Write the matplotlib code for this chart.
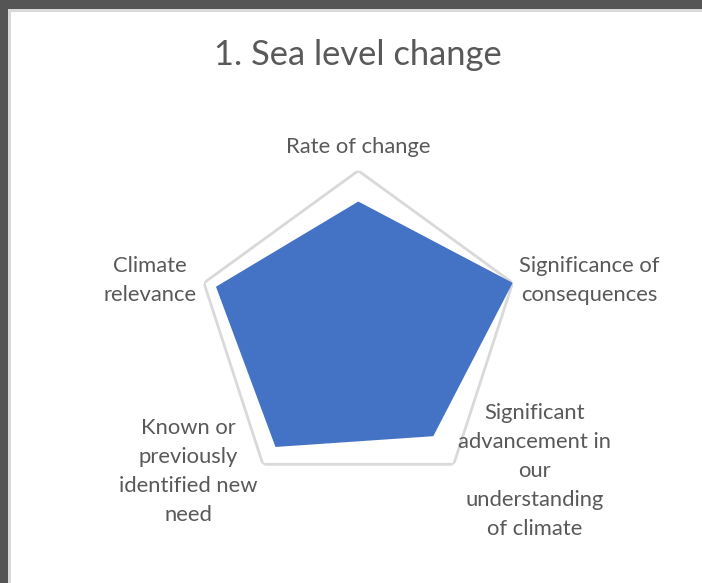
import numpy as np
import matplotlib
matplotlib.use("Agg")
import matplotlib.pyplot as plt
from matplotlib.patches import Rectangle

plt.rcParams['font.family'] = ['Lato', 'DejaVu Sans']

title = "1. Sea level change"
categories = ["Rate of change", "Significance of\nconsequences",
              "Significant\nadvancement in\nour\nunderstanding\nof climate",
              "Known or\npreviously\nidentified new\nneed",
              "Climate\nrelevance"]
values = [4.05, 5.0, 3.93, 4.34, 4.61]
rmax = 5.0

text_col = "#595959"
fill_col = "#4472C4"
grid_col = "#D9D9D9"

W, H = 702, 583
fig = plt.figure(figsize=(W / 100, H / 100), dpi=100)
fig.patch.set_facecolor("#555555")
# white chart area with thin light edge
fig.patches.append(Rectangle((8 / W, 0), 1 - 8 / W, 1 - 9 / H, transform=fig.transFigure,
                             facecolor="#D9D9D9", edgecolor="none", zorder=-5))
fig.patches.append(Rectangle((11 / W, 0), 1 - 11 / W, 1 - 12 / H, transform=fig.transFigure,
                             facecolor="white", edgecolor="none", zorder=-4))

cx, cy, R = 358.3, 333.0, 162.3
ax = fig.add_axes([(cx - R) / W, (H - cy - R) / H, 2 * R / W, 2 * R / H], projection="polar")
ax.set_zorder(2)
ax.set_facecolor("none")
ax.set_theta_offset(np.pi / 2)
ax.set_theta_direction(-1)
ax.set_ylim(0, rmax)
ax.set_axis_off()

n = len(categories)
theta = np.arange(n) * 2 * np.pi / n
tc = np.append(theta, theta[0])

ax.plot(tc, [rmax] * (n + 1), color=grid_col, lw=2.0, zorder=1)
ax.fill(tc, np.append(values, values[0]), color=fill_col, lw=0, zorder=2)

label_r = [5.73, 5.2, 5.24, 5.28, 5.25]
label_ha = ["center", "left", "left", "right", "right"]
for t, lab, r, ha in zip(theta, categories, label_r, label_ha):
    ax.text(t, r, lab, ha=ha, va="center", multialignment="center",
            fontsize=15.8, color=text_col, linespacing=1.56, clip_on=False)

fig.text(cx / W, 1 - 55 / H, title, ha="center", va="center", fontsize=24.8, color=text_col)

fig.savefig("out.png", dpi=100, facecolor=fig.get_facecolor())
